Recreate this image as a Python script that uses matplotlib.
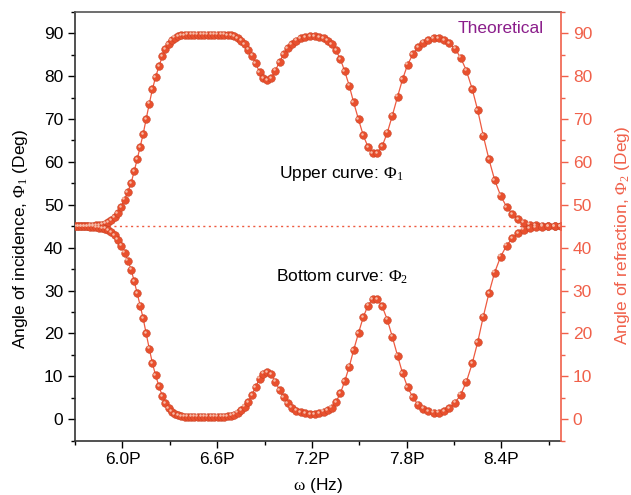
import matplotlib
matplotlib.use('Agg')
import matplotlib.pyplot as plt
import matplotlib.transforms as mtrans
from matplotlib.ticker import MultipleLocator, FixedLocator

plt.rcParams['font.family'] = ['Liberation Sans', 'DejaVu Sans']
plt.rcParams['mathtext.fontset'] = 'custom'
plt.rcParams['mathtext.rm'] = 'Liberation Serif'
plt.rcParams['mathtext.it'] = 'Liberation Serif:italic'

# frequency samples (units of P Hz)
omega = [5.700, 5.719, 5.738, 5.757, 5.776, 5.795, 5.814, 5.833, 5.852, 5.871,
         5.890, 5.910, 5.930, 5.950, 5.971, 5.992, 6.013, 6.034, 6.055, 6.074,
         6.093, 6.112, 6.131, 6.150, 6.170, 6.190, 6.210, 6.231, 6.252, 6.272,
         6.292, 6.312, 6.332, 6.352, 6.372, 6.393, 6.414, 6.435, 6.456, 6.477,
         6.498, 6.519, 6.540, 6.561, 6.582, 6.603, 6.624, 6.645, 6.666, 6.687,
         6.708, 6.730, 6.752, 6.773, 6.796, 6.820, 6.843, 6.868, 6.893, 6.917,
         6.942, 6.968, 6.995, 7.020, 7.046, 7.072, 7.099, 7.128, 7.158, 7.187,
         7.217, 7.247, 7.274, 7.300, 7.325, 7.352, 7.380, 7.407, 7.436, 7.464,
         7.495, 7.525, 7.555, 7.584, 7.614, 7.645, 7.677, 7.709, 7.742, 7.774,
         7.806, 7.839, 7.871, 7.904, 7.937, 7.970, 8.003, 8.036, 8.071, 8.106,
         8.142, 8.178, 8.215, 8.250, 8.285, 8.321, 8.357, 8.395, 8.433, 8.470,
         8.506, 8.542, 8.579, 8.617, 8.657, 8.697, 8.737, 8.776]

# upper curve: angle of incidence
phi1 = [45.0, 45.0, 45.0, 45.0, 45.0, 45.1, 45.1, 45.2, 45.3, 45.4,
        45.6, 45.9, 46.4, 47.1, 48.1, 49.5, 51.2, 53.0, 55.1, 57.8,
        60.6, 63.5, 66.5, 70.0, 73.6, 77.0, 79.8, 82.3, 84.6, 86.3,
        87.5, 88.4, 89.0, 89.3, 89.5, 89.6, 89.7, 89.7, 89.7, 89.7,
        89.7, 89.7, 89.7, 89.7, 89.7, 89.7, 89.7, 89.7, 89.6, 89.5,
        89.3, 88.9, 88.3, 87.4, 86.2, 84.8, 83.0, 81.0, 79.6, 79.0,
        79.5, 81.3, 83.3, 85.1, 86.5, 87.5, 88.3, 88.8, 89.1, 89.3,
        89.3, 89.1, 88.8, 88.3, 87.5, 86.0, 84.0, 81.2, 77.8, 73.9,
        69.9, 66.2, 63.5, 62.0, 62.0, 63.7, 66.8, 70.8, 75.2, 79.3,
        82.7, 85.1, 86.7, 87.8, 88.4, 88.8, 88.8, 88.4, 87.7, 86.4,
        84.3, 81.3, 77.0, 72.0, 66.1, 60.6, 55.8, 52.1, 49.5, 47.8,
        46.6, 45.8, 45.4, 45.2, 45.1, 45.0, 45.0, 45.0]

# bottom curve: angle of refraction
phi2 = [45.0, 45.0, 45.0, 45.0, 45.0, 44.9, 44.9, 44.8, 44.7, 44.6,
        44.4, 44.1, 43.6, 42.9, 41.9, 40.5, 38.8, 37.0, 34.9, 32.2,
        29.4, 26.5, 23.5, 20.0, 16.4, 13.0, 10.2, 7.7, 5.4, 3.7,
        2.5, 1.7, 1.2, 0.9, 0.7, 0.6, 0.6, 0.6, 0.6, 0.6,
        0.6, 0.6, 0.6, 0.6, 0.6, 0.6, 0.6, 0.6, 0.7, 0.8,
        1.0, 1.5, 2.1, 2.9, 4.0, 5.6, 7.5, 9.4, 10.6, 11.0,
        10.5, 8.7, 6.8, 5.1, 3.7, 2.7, 2.0, 1.6, 1.4, 1.2,
        1.2, 1.4, 1.7, 2.1, 2.7, 4.0, 6.0, 8.8, 12.2, 16.1,
        20.1, 23.8, 26.5, 28.0, 28.0, 26.3, 23.2, 19.2, 14.8, 10.7,
        7.4, 5.1, 3.4, 2.4, 1.8, 1.5, 1.5, 1.8, 2.6, 3.8,
        5.7, 8.7, 13.0, 18.0, 23.9, 29.4, 34.2, 37.9, 40.5, 42.2,
        43.4, 44.2, 44.6, 44.8, 44.9, 45.0, 45.0, 45.0]

xticks = [6.0, 6.6, 7.2, 7.8, 8.4]
xticklabels = ['6.0P', '6.6P', '7.2P', '7.8P', '8.4P']

BALL = '#E8502E'
EDGE = '#C23C20'
LINE = '#EE5A40'
RED_AX = '#F0604A'
FS = 12.5

fig = plt.figure(figsize=(6.31, 4.95), dpi=100)
ax = fig.add_axes([0.119, 0.110, 0.770, 0.866])

ax.axhline(45, color=LINE, lw=1.0, ls=(0, (1.5, 2.5)), zorder=1)
hl = mtrans.offset_copy(ax.transData, fig=fig, x=-1.0, y=1.0, units='points')
for ys in (phi1, phi2):
    ax.plot(omega, ys, '-', color=LINE, lw=0.9, zorder=2)
    ax.plot(omega, ys, 'o', ms=5.6, mfc=BALL, mec=EDGE, mew=0.3, zorder=3)
    ax.plot(omega, ys, 'o', ms=1.8, mfc='#F7BDAA', mec='none', zorder=4,
            transform=hl)

ax.set_xlim(5.7, 8.777)
ax.set_ylim(-5, 95)
ax.xaxis.set_major_locator(FixedLocator(xticks))
ax.set_xticklabels(xticklabels)
ax.xaxis.set_minor_locator(FixedLocator([5.7, 6.3, 6.9, 7.5, 8.1, 8.7]))
ax.set_yticks(range(0, 91, 10))
ax.yaxis.set_minor_locator(MultipleLocator(5))
ax.tick_params(which='both', direction='out', labelsize=FS, width=1.0, top=False, right=False)
ax.tick_params(which='major', length=5)
ax.tick_params(which='minor', length=3)
for s in ('left', 'bottom'):
    ax.spines[s].set_color('#333333')
    ax.spines[s].set_linewidth(1.2)
ax.spines['top'].set_color('#555555')
ax.spines['top'].set_linewidth(1.2)
ax.spines['right'].set_visible(False)

ax2 = ax.twinx()
ax2.set_ylim(-5, 95)
ax2.set_yticks(range(0, 91, 10))
ax2.yaxis.set_minor_locator(MultipleLocator(5))
ax2.tick_params(which='both', direction='out', colors=RED_AX, labelsize=FS, width=1.0)
ax2.tick_params(which='major', length=5)
ax2.tick_params(which='minor', length=3)
for s in ('left', 'top', 'bottom'):
    ax2.spines[s].set_visible(False)
ax2.spines['right'].set_color(RED_AX)
ax2.spines['right'].set_linewidth(1.2)

ax.set_xlabel(r'$\mathrm{\omega}$ (Hz)', fontsize=FS)
ax.xaxis.set_label_coords(0.5, -0.082)
ax.set_ylabel(r'Angle of incidence, $\Phi_1$ (Deg)', fontsize=FS)
ax.yaxis.set_label_coords(-0.093, 0.47)
ax2.set_ylabel(r'Angle of refraction, $\Phi_2$ (Deg)', fontsize=FS, color=RED_AX)
ax2.yaxis.set_label_coords(1.108, 0.478)

ax.text(7.388, 57.2, r'Upper curve: $\Phi_1$', fontsize=FS, ha='center', va='center')
ax.text(7.388, 33.2, r'Bottom curve: $\Phi_2$', fontsize=FS, ha='center', va='center')
ax.text(8.668, 91.2, 'Theoretical', fontsize=FS, color='#8B1E8B', ha='right', va='center')

fig.savefig('out.png', dpi=100)
